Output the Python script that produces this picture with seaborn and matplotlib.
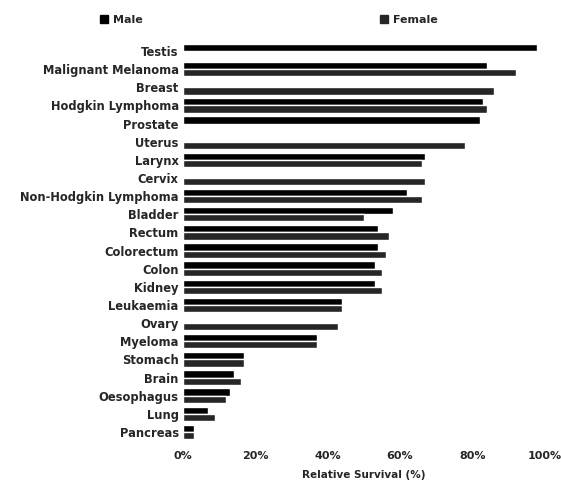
import seaborn as sns
import matplotlib.pyplot as plt
import matplotlib.ticker as mtick
import pandas as pd
import numpy as np

sites = ['Testis', 'Malignant Melanoma', 'Breast', 'Hodgkin Lymphoma', 'Prostate',
         'Uterus', 'Larynx', 'Cervix', 'Non-Hodgkin Lymphoma', 'Bladder', 'Rectum',
         'Colorectum', 'Colon', 'Kidney', 'Leukaemia', 'Ovary', 'Myeloma', 'Stomach',
         'Brain', 'Oesophagus', 'Lung', 'Pancreas']

# relative survival (%), NaN where the cancer is sex specific
male = [98, 84, np.nan, 83, 82, np.nan, 67, np.nan, 62, 58, 54,
        54, 53, 53, 44, np.nan, 37, 17, 14, 13, 7, 3]
female = [np.nan, 92, 86, 84, np.nan, 78, 66, 67, 66, 50, 57,
          56, 55, 55, 44, 43, 37, 17, 16, 12, 9, 3]

df = pd.DataFrame({'Site': sites * 2,
                   'Sex': ['Male'] * len(sites) + ['Female'] * len(sites),
                   'Survival': male + female}).dropna()

sns.set_style('white')
plt.rcParams['font.family'] = ['DejaVu Sans']

fig = plt.figure(figsize=(5.61, 4.9), dpi=100)
ax = fig.add_axes([0.326, 0.1, 0.645, 0.8145])

sns.barplot(data=df, x='Survival', y='Site', hue='Sex', order=sites,
            hue_order=['Male', 'Female'], palette=['#000000', '#262626'],
            orient='h', width=0.8, saturation=1, ax=ax, legend=False)

ax.set_xlim(0, 100)
ax.set_xticks(range(0, 101, 20))
ax.xaxis.set_major_formatter(mtick.PercentFormatter(decimals=0))
ax.set_ylabel('')
ax.set_xlabel('Relative Survival (%)', fontsize=7.5, fontweight='bold', labelpad=7)
ax.tick_params(axis='y', length=0, labelsize=8.3, pad=3)
ax.tick_params(axis='x', length=0, labelsize=8, pad=7)
for lab in ax.get_yticklabels() + ax.get_xticklabels():
    lab.set_fontweight('bold')
sns.despine(ax=ax, left=True, bottom=True)

handles = [plt.Rectangle((0, 0), 1, 1, color='#000000'),
           plt.Rectangle((0, 0), 1, 1, color='#262626')]
fig.legend(handles, ['Male', 'Female'], loc='upper left', bbox_to_anchor=(0.16, 0.99),
           ncol=2, frameon=False, handlelength=0.75, handleheight=0.75,
           handletextpad=0.45, columnspacing=21.3,
           prop={'weight': 'bold', 'size': 8})

fig.savefig('out.png', dpi=100)
